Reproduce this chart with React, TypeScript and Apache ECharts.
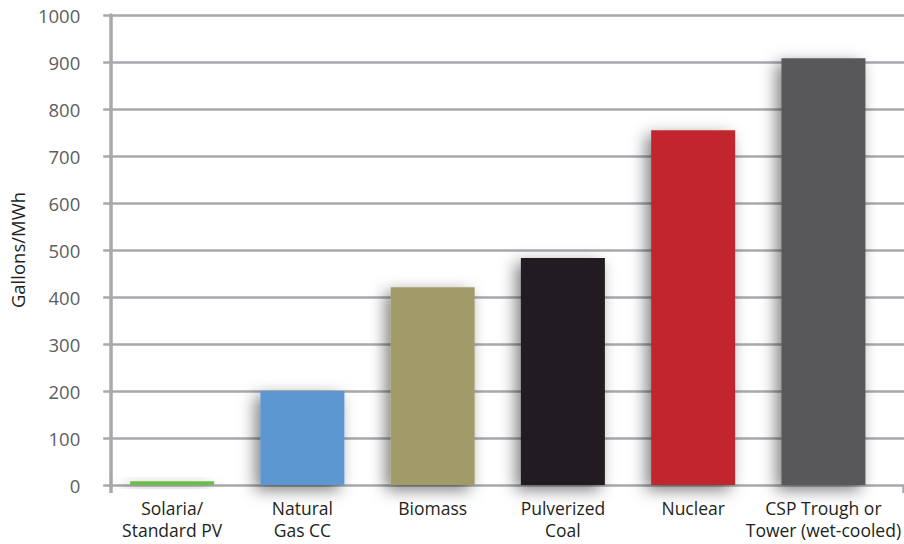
import React, { useEffect, useRef } from "react";
import * as echarts from "echarts";

const categories = [
  "Solaria/\nStandard PV",
  "Natural\nGas CC",
  "Biomass",
  "Pulverized\nCoal",
  "Nuclear",
  "CSP Trough or\nTower (wet-cooled)",
];
const values = [8, 200, 421, 483, 755, 908];
const barColors = ["#6abd45", "#5b97d1", "#a19b6b", "#231f20", "#c1272d", "#58585a"];
const yTicks = { min: 0, max: 1000, interval: 100 };
const yName = "Gallons/MWh";

const FONT = "Open Sans";
const GRID_COLOR = "#a7a9ac";

export default function App() {
  const ref = useRef<HTMLDivElement>(null);
  useEffect(() => {
    if (!ref.current) return;
    const chart = echarts.init(ref.current, null, { renderer: "svg" });
    chart.setOption({
      animation: false,
      backgroundColor: "#ffffff",
      grid: [
        { left: 97, right: 0, top: 15, bottom: 59 },
        { left: 107, right: 15, top: 15, bottom: 59 },
      ],
      xAxis: [
        {
          type: "value",
          gridIndex: 0,
          min: 0,
          max: 1,
          interval: 1,
          axisLine: { show: false },
          axisTick: { show: true, length: 8, lineStyle: { color: GRID_COLOR, width: 3.5 } },
          axisLabel: { show: false },
          splitLine: { show: false },
        },
        {
          type: "category",
          gridIndex: 1,
          data: categories,
          axisLine: { show: false },
          axisTick: { show: false },
          axisLabel: {
            margin: 12,
            color: "#231f20",
            fontFamily: FONT,
            fontSize: 17.5,
            lineHeight: 22,
            interval: 0,
          },
        },
      ],
      yAxis: [
        {
          type: "value",
          gridIndex: 0,
          ...yTicks,
          name: yName,
          nameLocation: "middle",
          nameRotate: 90,
          nameGap: 77,
          nameTextStyle: { color: "#231f20", fontFamily: FONT, fontSize: 18.5 },
          axisLine: { show: true, lineStyle: { color: GRID_COLOR, width: 3.5 } },
          axisTick: { show: true, length: 8, lineStyle: { color: GRID_COLOR, width: 2.5 } },
          axisLabel: {
            margin: 31,
            color: "#5d5e61",
            fontFamily: FONT,
            fontSize: 18.5,
            formatter: (v: number) => String(v),
          },
          splitLine: { show: true, lineStyle: { color: GRID_COLOR, width: 2.5 } },
        },
        {
          type: "value",
          gridIndex: 1,
          ...yTicks,
          show: false,
          splitLine: { show: false },
        },
      ],
      series: [
        {
          type: "bar",
          xAxisIndex: 1,
          yAxisIndex: 1,
          barWidth: 84,
          data: values.map((v, i) => ({
            value: v,
            itemStyle: {
              color: barColors[i],
              shadowBlur: 16,
              shadowColor: "rgba(0,0,0,0.5)",
              shadowOffsetX: -5,
              shadowOffsetY: 5,
            },
          })),
        },
      ],
    });
    return () => chart.dispose();
  }, []);
  return (
    <div
      ref={ref}
      style={{ position: "absolute", left: 0, top: 0, width: 904, height: 544 }}
    />
  );
}
